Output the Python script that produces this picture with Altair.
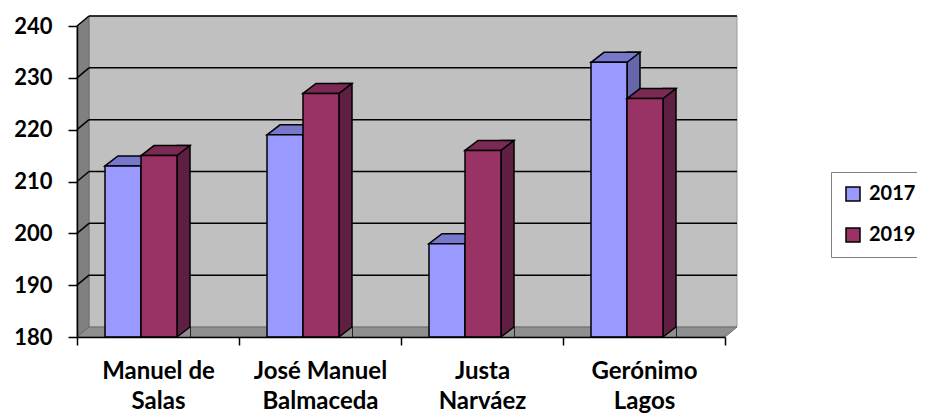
import json
import altair as alt
import pandas as pd

# ---------------- data ----------------
schools = ["Manuel de Salas", "José Manuel Balmaceda", "Justa Narváez", "Gerónimo Lagos"]
label_lines = [["Manuel de", "Salas"], ["José Manuel", "Balmaceda"], ["Justa", "Narváez"], ["Gerónimo", "Lagos"]]
years = ["2017", "2019"]
values_2017 = [213, 219, 198, 233]
values_2019 = [215, 227, 216, 226]
y_ticks = [180, 190, 200, 210, 220, 230, 240]

# ---------------- style ----------------
W, H = 648, 311
D, DY = 13, 10        # bar depth offsets (px)
WD = 12               # wall depth (px)
BAR = 36
FONT = "Lato"
front_colors = ["#9999FF", "#993366"]
top_colors = ["#7777CC", "#7A2A55"]
side_colors = ["#6666AA", "#5E1F42"]
floor_color = "#8F8F8F"
lwall_color = "#808080"
wall_color = "#C0C0C0"

yscale = alt.Scale(domain=[180, 240], nice=False, zero=False)
yaxis = alt.Axis(values=y_ticks, format="d", grid=False, domainColor="black", domainWidth=1.5,
                 tickColor="black", tickWidth=1.5, tickSize=9, labelFont=FONT, labelFontSize=22,
                 labelFontWeight="bold", labelColor="black", labelPadding=16, zindex=1)


def Y(field):
    return alt.Y(f"{field}:Q", scale=yscale, axis=yaxis, title=None)


label_expr = " : ".join(
    f"datum.value == {json.dumps(s, ensure_ascii=False)} ? {json.dumps(l, ensure_ascii=False)}"
    for s, l in zip(schools, label_lines)
) + " : datum.label"

xaxis = alt.Axis(title=None, labelExpr=label_expr, labelAngle=0, tickBand="extent",
                 domainColor="black", domainWidth=1.5, tickColor="black", tickWidth=1.5, tickSize=8,
                 labelFont=FONT, labelFontSize=24, labelFontWeight="bold", labelColor="black",
                 labelPadding=14, labelLineHeight=30, zindex=1)

legend = alt.Legend(orient="none", legendX=754, legendY=146, title=None, padding=12,
                    strokeColor="#808080", fillColor="white", symbolType="square", symbolSize=196,
                    symbolStrokeColor="black", symbolStrokeWidth=1.5, symbolOpacity=1,
                    labelFont=FONT, labelFontSize=20, labelFontWeight="bold", labelColor="black",
                    rowPadding=21, labelOffset=6)

one = pd.DataFrame({"top": [240], "bot": [180]})
ticks_df = pd.DataFrame({"t": y_ticks[1:]})
cat_df = pd.DataFrame({"school": schools})

# ---------------- decoration: walls and floor ----------------
back_wall = alt.Chart(one).mark_rect(
    fill=wall_color, stroke="#9A9A9A", strokeWidth=1, yOffset=-DY, y2Offset=-DY
).encode(x=alt.value(WD), x2=alt.value(W + WD), y=Y("top"), y2="bot")

left_wall = alt.Chart(one).mark_point(
    shape=f"M0,0L{WD},{-DY}L{WD},{H - DY}L0,{H}Z", size=4, filled=True, fill=lwall_color,
    stroke="#6A6A6A", strokeWidth=1, opacity=1
).encode(x=alt.value(0), y=alt.value(0))

floor = alt.Chart(one).mark_point(
    shape=f"M0,0L{WD},{-DY}L{W + WD},{-DY}L{W},0Z", size=4, filled=True, fill=floor_color,
    stroke="#6A6A6A", strokeWidth=1, opacity=1
).encode(x=alt.value(0), y=alt.value(H))

grid_back = alt.Chart(ticks_df).mark_rule(
    yOffset=-DY, stroke="black", strokeWidth=1.5
).encode(x=alt.value(WD), x2=alt.value(W + WD), y=Y("t"))

grid_side = alt.Chart(ticks_df).mark_point(
    shape=f"M0,0L{WD},{-DY}", size=4, filled=False, stroke="black", strokeWidth=1.5, opacity=1
).encode(x=alt.value(0), y=Y("t"))

axis_layer = alt.Chart(cat_df).mark_point(opacity=0).encode(
    x=alt.X("school:N", sort=schools, scale=alt.Scale(type="band", paddingInner=0, paddingOuter=0), axis=xaxis),
    y=alt.value(H),
)


# ---------------- 3D bars ----------------
def boxes(vals, i, align):
    df = pd.DataFrame({"school": schools, "year": years[i], "value": vals, "base": 180})
    xs = alt.X("school:N", sort=schools,
               scale=alt.Scale(type="band", paddingInner=7 / 9, paddingOuter=7 / 18, align=align),
               axis=None)
    base = alt.Chart(df)
    h = BAR / 2
    side = base.mark_bar(width=D, xOffset=h + D / 2, yOffset=-DY, fill=side_colors[i],
                         stroke="black", strokeWidth=1.5).encode(x=xs, y=Y("value"), y2="base")
    tri = base.mark_point(shape=f"M{h},0L{h + D},{-DY}L{h + D},0Z", size=4, filled=True,
                          fill=floor_color, strokeWidth=0, opacity=1).encode(x=xs, y=Y("base"))
    diag = base.mark_point(shape=f"M{h},0L{h + D},{-DY}", size=4, filled=False, stroke="black",
                           strokeWidth=1.5, opacity=1).encode(x=xs, y=Y("base"))
    top = base.mark_point(shape=f"M{-h},0L{-h + D},{-DY}L{h + D},{-DY}L{h},0Z", size=4, filled=True,
                          fill=top_colors[i], stroke="black", strokeWidth=1.5, opacity=1
                          ).encode(x=xs, y=Y("value"))
    front = base.mark_bar(stroke="black", strokeWidth=1.5).encode(
        x=xs, y=Y("value"), y2="base",
        color=alt.Color("year:N", scale=alt.Scale(domain=years, range=front_colors), legend=legend),
    )
    return [side, tri, diag, top, front]


layers = [back_wall, left_wall, floor, grid_back, grid_side, axis_layer]
layers += boxes(values_2017, 0, 2 / 9)
layers += boxes(values_2019, 1, 64 / 126)

chart = alt.layer(*layers).resolve_scale(x="independent").properties(
    width=W, height=H,
    padding={"left": 69, "top": 18, "right": 192, "bottom": 79},
    autosize=alt.AutoSizeParams(type="none"),
).configure_view(stroke=None)

chart.save("out.html", embed_options={"renderer": "svg", "actions": False})
